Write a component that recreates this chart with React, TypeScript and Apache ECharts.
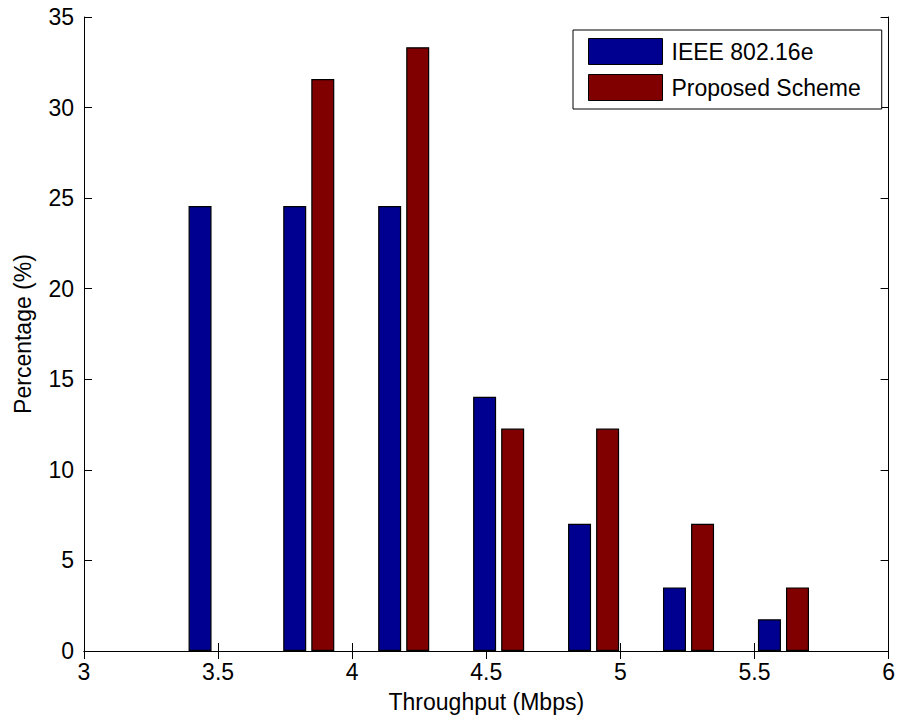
import React, { useEffect, useRef } from "react";
import * as echarts from "echarts";

// Bin centres (Mbps)
const binCenters = [3.485, 3.838, 4.192, 4.546, 4.9, 5.254, 5.608];
// Percentages per bin
const ieeeValues = [24.56, 24.56, 24.56, 14.04, 7.02, 3.51, 1.75];
const proposedValues = [0, 31.58, 33.33, 12.28, 12.28, 7.02, 3.51];
const seriesNames = ["IEEE 802.16e", "Proposed Scheme"];
const xTitle = "Throughput (Mbps)";
const yTitle = "Percentage (%)";

const FONT = "'Liberation Sans', Arial, Helvetica, sans-serif";

function toData(values: number[]) {
  return binCenters.map((x, i) =>
    values[i] === 0
      ? { value: [x, values[i]], itemStyle: { borderWidth: 0 } }
      : { value: [x, values[i]] }
  );
}

export default function App() {
  const ref = useRef<HTMLDivElement>(null);
  useEffect(() => {
    document.body.style.margin = "0";
    if (!ref.current) return;
    const chart = echarts.init(ref.current, null, { renderer: "svg" });
    const axisLine = { show: true, lineStyle: { color: "#000", width: 1 } };
    const tick = { show: true, inside: true, length: 8, lineStyle: { color: "#000", width: 1 } };
    const label = { color: "#000", fontSize: 23, fontFamily: FONT };
    chart.setOption({
      animation: false,
      backgroundColor: "#fff",
      textStyle: { fontFamily: FONT },
      grid: { left: 84, top: 17, width: 806, height: 634, containLabel: false },
      legend: {
        orient: "vertical",
        left: 573,
        top: 30,
        padding: [8, 21, 8, 15],
        itemWidth: 74,
        itemHeight: 26,
        itemGap: 9,
        icon: "rect",
        borderColor: "#000",
        borderWidth: 1,
        backgroundColor: "#fff",
        itemStyle: { borderColor: "#000", borderWidth: 1 },
        textStyle: { color: "#000", fontSize: 23, fontFamily: FONT, padding: [0, 0, 0, 4] },
        data: seriesNames,
      },
      xAxis: [
        {
          type: "value",
          min: 3,
          max: 6,
          interval: 0.5,
          position: "bottom",
          axisLine,
          axisTick: tick,
          splitLine: { show: false },
          axisLabel: { ...label, margin: 9 },
          name: xTitle,
          nameLocation: "middle",
          nameGap: 39,
          nameTextStyle: { color: "#000", fontSize: 23, fontFamily: FONT },
        },
        {
          type: "value",
          min: 3,
          max: 6,
          interval: 0.5,
          position: "top",
          axisLine,
          axisTick: tick,
          splitLine: { show: false },
          axisLabel: { show: false },
        },
      ],
      yAxis: [
        {
          type: "value",
          min: 0,
          max: 35,
          interval: 5,
          position: "left",
          axisLine,
          axisTick: tick,
          splitLine: { show: false },
          axisLabel: { ...label, margin: 10 },
          name: yTitle,
          nameLocation: "middle",
          nameGap: 50,
          nameRotate: 90,
          nameTextStyle: { color: "#000", fontSize: 23, fontFamily: FONT },
        },
        {
          type: "value",
          min: 0,
          max: 35,
          interval: 5,
          position: "right",
          axisLine,
          axisTick: tick,
          splitLine: { show: false },
          axisLabel: { show: false },
        },
      ],
      series: [
        {
          name: seriesNames[0],
          type: "bar",
          xAxisIndex: 0,
          yAxisIndex: 0,
          barWidth: 23,
          barGap: "22%",
          itemStyle: { color: "#000090", borderColor: "#000", borderWidth: 1.2 },
          data: toData(ieeeValues),
        },
        {
          name: seriesNames[1],
          type: "bar",
          xAxisIndex: 0,
          yAxisIndex: 0,
          barWidth: 23,
          barGap: "22%",
          itemStyle: { color: "#800000", borderColor: "#000", borderWidth: 1.2 },
          data: toData(proposedValues),
        },
      ],
    });
    return () => chart.dispose();
  }, []);
  return <div ref={ref} style={{ width: 898, height: 722 }} />;
}
